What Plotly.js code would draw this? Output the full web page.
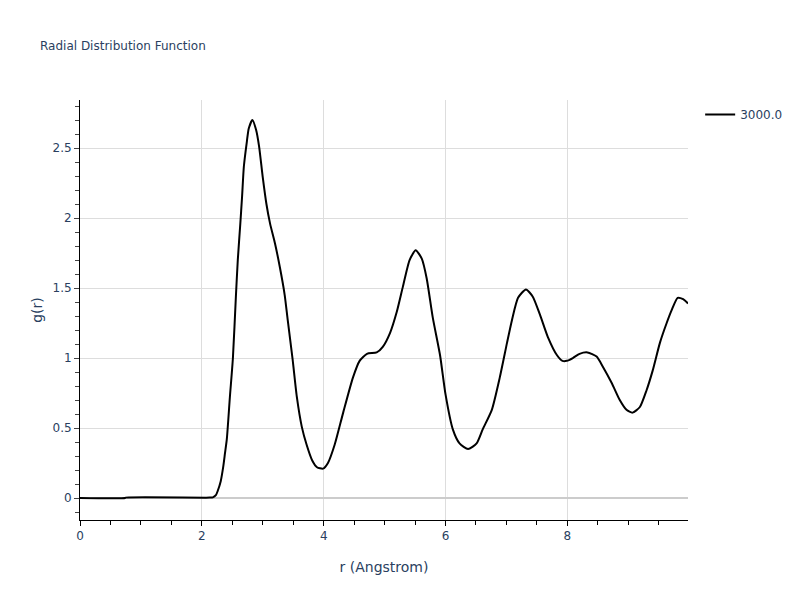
<!DOCTYPE html>
<html>
<head>
<meta charset="utf-8">
<script src="https://cdn.plot.ly/plotly-3.0.1.min.js"></script>
<style>html,body{margin:0;padding:0;background:#fff;}</style>
</head>
<body>
<div id="chart" style="width:800px;height:600px;"></div>
<script>
const seriesName = "3000.0";
const rValues = [0, 0.74, 0.75, 2.13, 2.18, 2.23, 2.26, 2.31, 2.35, 2.38, 2.41, 2.46, 2.51, 2.56, 2.59, 2.63, 2.66, 2.69, 2.74, 2.77, 2.83, 2.89, 2.94, 3.00, 3.06, 3.12, 3.20, 3.28, 3.36, 3.41, 3.49, 3.56, 3.64, 3.72, 3.81, 3.89, 3.99, 4.07, 4.18, 4.32, 4.48, 4.59, 4.71, 4.87, 4.97, 5.09, 5.20, 5.30, 5.41, 5.51, 5.61, 5.69, 5.79, 5.91, 6.00, 6.12, 6.23, 6.37, 6.51, 6.61, 6.76, 6.89, 7.01, 7.09, 7.19, 7.32, 7.43, 7.55, 7.68, 7.83, 7.92, 7.99, 8.09, 8.20, 8.33, 8.48, 8.58, 8.73, 8.86, 8.97, 9.07, 9.19, 9.30, 9.40, 9.52, 9.63, 9.71, 9.81, 9.90, 9.98];
const gValues = [0, 0, 0.003, 0.003, 0.005, 0.02, 0.05, 0.12, 0.22, 0.32, 0.42, 0.72, 1.0, 1.45, 1.7, 1.95, 2.15, 2.37, 2.55, 2.64, 2.70, 2.63, 2.51, 2.29, 2.10, 1.96, 1.82, 1.65, 1.45, 1.27, 0.99, 0.72, 0.51, 0.38, 0.27, 0.22, 0.21, 0.25, 0.38, 0.61, 0.86, 0.98, 1.03, 1.04, 1.08, 1.18, 1.33, 1.51, 1.70, 1.77, 1.71, 1.57, 1.29, 1.02, 0.74, 0.49, 0.39, 0.35, 0.39, 0.49, 0.63, 0.86, 1.11, 1.27, 1.43, 1.49, 1.44, 1.31, 1.15, 1.02, 0.98, 0.98, 1.0, 1.03, 1.04, 1.01, 0.94, 0.82, 0.70, 0.63, 0.61, 0.65, 0.77, 0.91, 1.11, 1.25, 1.34, 1.43, 1.42, 1.39];

const trace = {
  x: rValues, y: gValues, type: 'scatter', mode: 'lines', name: seriesName,
  line: {color: '#000000', width: 2, shape: 'spline', smoothing: 0.6},
  showlegend: true
};

const fam = 'DejaVu Sans, Verdana, sans-serif';
const layout = {
  width: 800, height: 600,
  margin: {l: 80, r: 112, t: 100, b: 80},
  paper_bgcolor: '#ffffff', plot_bgcolor: '#ffffff',
  font: {family: fam, color: '#2a3f5f', size: 12},
  title: {text: 'Radial Distribution Function', font: {family: fam, size: 12, color: '#2a3f5f'}, x: 0.05},
  showlegend: true,
  legend: {font: {family: fam, size: 12, color: '#2a3f5f'}},
  xaxis: {
    title: {text: 'r (Angstrom)', font: {family: fam, size: 14, color: '#2a3f5f'}},
    range: [0, 9.98], dtick: 2, tick0: 0,
    showline: true, linecolor: '#000', linewidth: 1,
    ticks: 'outside', ticklen: 5, tickcolor: '#000',
    showgrid: true, gridcolor: '#dddddd', zeroline: false,
    minor: {dtick: 0.5, ticks: 'outside', ticklen: 4, tickcolor: '#000', showgrid: false}
  },
  yaxis: {
    title: {text: 'g(r)', font: {family: fam, size: 14, color: '#2a3f5f'}},
    range: [-0.157, 2.843], dtick: 0.5, tick0: 0,
    showline: true, linecolor: '#000', linewidth: 1,
    ticks: 'outside', ticklen: 5, tickcolor: '#444',
    showgrid: true, gridcolor: '#dddddd',
    zeroline: true, zerolinecolor: '#cccccc', zerolinewidth: 2,
    minor: {dtick: 0.1, ticks: 'outside', ticklen: 4, tickcolor: '#444', showgrid: false}
  }
};

Plotly.newPlot('chart', [trace], layout, {displayModeBar: false});
</script>
</body>
</html>
